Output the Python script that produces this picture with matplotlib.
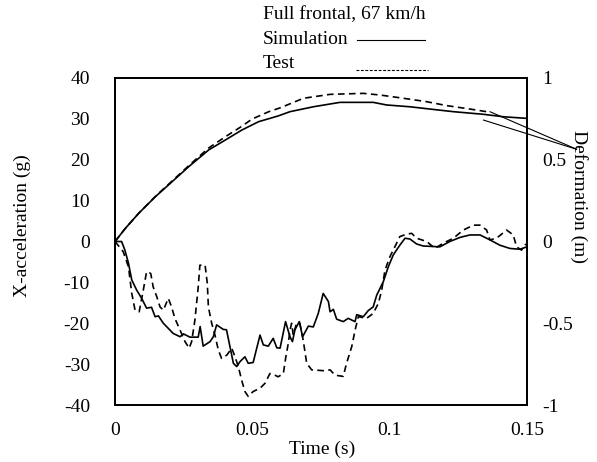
import matplotlib
matplotlib.use("Agg")
import matplotlib.pyplot as plt
from matplotlib.lines import Line2D

plt.rcParams['font.family'] = ['Liberation Serif', 'DejaVu Serif']
plt.rcParams['font.size'] = 14
plt.rcParams['axes.unicode_minus'] = False

# acceleration (g) vs time (s)
t_sim_acc = [0, 0.0024, 0.0036, 0.0049, 0.0061, 0.0079, 0.0097, 0.0115, 0.0133, 0.0146,
             0.0158, 0.0176, 0.0212, 0.0237, 0.0249, 0.0273, 0.0303, 0.031, 0.0321, 0.0346,
             0.0358, 0.037, 0.0394, 0.0406, 0.0431, 0.0443, 0.0455, 0.0473, 0.0485, 0.0503,
             0.0528, 0.054, 0.0558, 0.0576, 0.0589, 0.0601, 0.0621, 0.0637, 0.0646, 0.0655,
             0.0671, 0.0683, 0.0704, 0.0722, 0.074, 0.0758, 0.0777, 0.0783, 0.0795, 0.0807,
             0.0831, 0.0849, 0.0874, 0.088, 0.0904, 0.0922, 0.094, 0.0953, 0.0977, 0.0995,
             0.1013, 0.1037, 0.1056, 0.1074, 0.1098, 0.1122, 0.1183, 0.1219, 0.1256, 0.1292,
             0.1329, 0.1365, 0.1401, 0.1438, 0.1474, 0.15]
sim_acc = [0, 0, -2.1, -5.3, -9.4, -11.9, -13.9, -16.3, -16.1, -18.4,
           -18.2, -20.0, -22.5, -23.3, -22.6, -23.4, -23.4, -20.8, -25.6, -24.5,
           -23.3, -20.4, -21.5, -21.6, -29.8, -30.6, -29.4, -28.2, -29.8, -29.6,
           -22.9, -25.3, -25.6, -23.7, -26.0, -26.1, -19.6, -23.3, -24.5, -21.6,
           -19.6, -23.3, -20.7, -20.9, -17.6, -12.7, -14.7, -17.2, -16.6, -19.0,
           -19.6, -18.8, -19.6, -17.9, -18.4, -16.9, -16.0, -13.1, -9.8, -6.2,
           -3.3, -0.9, 0.8, 0.6, -0.6, -1.1, -1.3, 0, 1.0, 1.6,
           1.6, 0.4, -0.9, -1.7, -1.9, -1.3]

t_test_acc = [0, 0.003, 0.0049, 0.0061, 0.0073, 0.0088, 0.0103, 0.0115, 0.013, 0.0139,
              0.0152, 0.0164, 0.0176, 0.0194, 0.0206, 0.0218, 0.0237, 0.0255, 0.027, 0.0279,
              0.0291, 0.0303, 0.0309, 0.0328, 0.0336, 0.034, 0.0352, 0.0364, 0.0376, 0.0388,
              0.0407, 0.0425, 0.0437, 0.0449, 0.0461, 0.0473, 0.0485, 0.0503, 0.0528, 0.0546,
              0.0564, 0.0582, 0.0594, 0.0613, 0.0622, 0.0631, 0.0637, 0.0643, 0.0649, 0.0661,
              0.0673, 0.0685, 0.0698, 0.0716, 0.0758, 0.0783, 0.0801, 0.0831, 0.0843, 0.0862,
              0.0874, 0.0886, 0.0916, 0.094, 0.0959, 0.0971, 0.0983, 0.1001, 0.1019, 0.1037,
              0.1062, 0.108, 0.1098, 0.1135, 0.1165, 0.1195, 0.1232, 0.1268, 0.1305, 0.1329,
              0.1353, 0.1365, 0.1389, 0.1426, 0.145, 0.1462, 0.148, 0.1496]
test_acc = [0, -2.5, -6.2, -12.7, -16.8, -17.2, -11.9, -7.4, -7.8, -11.1,
            -13.5, -16.0, -16.8, -13.9, -16.0, -18.8, -21.7, -24.5, -26.1, -24.5,
            -19.2, -11.1, -5.8, -5.8, -10.2, -16.0, -20.0, -22.9, -26.5, -28.6,
            -27.8, -26.1, -28.2, -30.6, -33.9, -36.7, -37.9, -36.7, -35.9, -34.7,
            -32.3, -32.7, -33.1, -32.3, -28.2, -24.9, -21.7, -20.0, -22.9, -20.0,
            -20.0, -24.1, -29.8, -31.4, -31.6, -31.4, -32.7, -33.0, -29.8, -25.7,
            -21.7, -18.4, -18.8, -17.6, -15.1, -11.9, -7.0, -3.7, -1.3, 1.2,
            1.8, 2.0, 0.8, 0, -1.7, -0.4, 0.8, 2.8, 4.0, 4.0,
            2.8, 0.4, 0.8, 2.8, 1.6, -1.3, -2.1, -0.6]

# deformation (m) vs time (s)
t_sim_def = [0, 0.0038, 0.0086, 0.0147, 0.0208, 0.0268, 0.0341, 0.0402, 0.0462, 0.0523,
             0.0564, 0.0596, 0.0637, 0.0722, 0.0819, 0.094, 0.0989, 0.1074, 0.1147, 0.1232,
             0.1341, 0.1414, 0.15]
sim_def = [0, 0.081, 0.172, 0.274, 0.366, 0.457, 0.560, 0.621, 0.682, 0.733,
           0.753, 0.769, 0.794, 0.824, 0.851, 0.851, 0.835, 0.824, 0.810, 0.794,
           0.778, 0.763, 0.753]
t_test_def = [0, 0.0038, 0.0086, 0.0147, 0.0208, 0.0268, 0.0341, 0.0402, 0.0462, 0.0499,
              0.056, 0.0602, 0.0686, 0.0783, 0.0904, 0.0965, 0.105, 0.1135, 0.1208, 0.1293,
              0.1353]
test_def = [0, 0.081, 0.172, 0.276, 0.370, 0.463, 0.572, 0.641, 0.705, 0.749,
            0.794, 0.818, 0.876, 0.900, 0.906, 0.896, 0.876, 0.855, 0.831, 0.810,
            0.794]

fig = plt.figure(figsize=(5.97, 4.62), dpi=100)
ax = fig.add_axes([115/597, 1-405/462, 412/597, 327/462])
ax2 = ax.twinx()

ax.plot(t_sim_acc, sim_acc, color='black', lw=1.2)
ax.plot(t_test_acc, test_acc, color='black', lw=1.2, dashes=(4, 2.6))
ax2.plot(t_sim_def, sim_def, color='black', lw=1.2)
ax2.plot(t_test_def, test_def, color='black', lw=1.2, dashes=(4, 2.6))

ax.set_xlim(0, 0.15)
ax.set_ylim(-40, 40)
ax2.set_ylim(-1, 1)
ax.set_xticks([0, 0.05, 0.1, 0.15])
ax.set_xticklabels(['0', '0.05', '0.1', '0.15'])
ax.set_yticks(range(-40, 41, 10))
ax2.set_yticks([-1, -0.5, 0, 0.5, 1])
ax2.set_yticklabels(['-1', '-0.5', '0', '0.5', '1'])
ax.tick_params(axis='y', length=0, pad=18)
ax.tick_params(axis='x', length=0, pad=12)
ax2.tick_params(axis='y', length=0, pad=11)
for a in (ax, ax2):
    for s in a.spines.values():
        s.set_linewidth(1.3)

fig.text(22/597, 1-226/462, 'X-acceleration (g)', rotation=90, ha='center', va='center')
fig.text(579/597, 1-197/462, 'Deformation (m)', rotation=270, ha='center', va='center')
fig.text(322/597, 1-449/462, 'Time (s)', ha='center', va='center')

# callout lines for the deformation curves
for tt, yy in ((0.1365, 0.794), (0.1341, 0.743)):
    ax2.annotate('', xy=(tt, yy), xytext=(1.1206, 0.782), textcoords='axes fraction',
                 arrowprops=dict(arrowstyle='-', color='black', lw=0.8, shrinkA=0, shrinkB=0))

# header / legend
fig.text(263/597, 1-15/462, 'Full frontal, 67 km/h', ha='left', va='center')
fig.text(263/597, 1-39/462, 'Simulation', ha='left', va='center')
fig.text(263/597, 1-63/462, 'Test', ha='left', va='center')
fig.add_artist(Line2D([357/597, 425/597], [1-40/462, 1-40/462], color='black', lw=0.8))
fig.add_artist(Line2D([356/597, 428/597], [1-70/462, 1-70/462], color='black', lw=0.8,
                      dashes=(2.5, 1.5)))

fig.savefig('out.png', dpi=100)
